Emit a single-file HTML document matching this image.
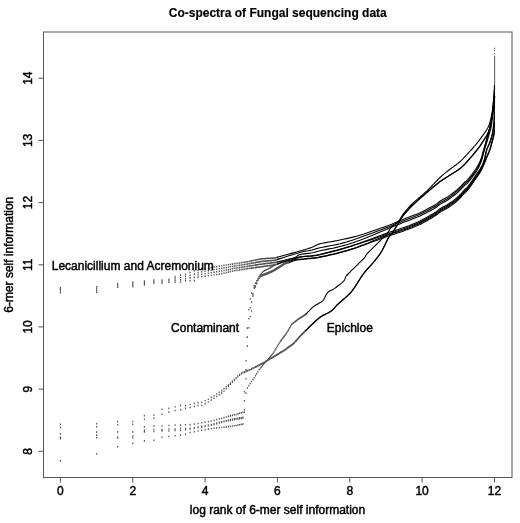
<!DOCTYPE html>
<html><head><meta charset="utf-8"><style>
html,body{margin:0;padding:0;background:#fff;width:520px;height:523px;overflow:hidden}
svg{display:block;filter:grayscale(1)}
.t{font-family:"Liberation Sans",sans-serif;font-size:12px;fill:#000;stroke:#000;stroke-width:0.45px}
</style></head><body>
<svg width="520" height="523" viewBox="0 0 520 523">
<rect width="520" height="523" fill="#fff"/>
<rect x="43.5" y="32.0" width="468.5" height="445.5" fill="none" stroke="#555" stroke-width="1"/>
<line x1="60.4" y1="477.5" x2="60.4" y2="482.5" stroke="#555"/>
<text x="60.4" y="494.5" text-anchor="middle" class="t">0</text>
<line x1="132.8" y1="477.5" x2="132.8" y2="482.5" stroke="#555"/>
<text x="132.8" y="494.5" text-anchor="middle" class="t">2</text>
<line x1="205.1" y1="477.5" x2="205.1" y2="482.5" stroke="#555"/>
<text x="205.1" y="494.5" text-anchor="middle" class="t">4</text>
<line x1="277.4" y1="477.5" x2="277.4" y2="482.5" stroke="#555"/>
<text x="277.4" y="494.5" text-anchor="middle" class="t">6</text>
<line x1="349.8" y1="477.5" x2="349.8" y2="482.5" stroke="#555"/>
<text x="349.8" y="494.5" text-anchor="middle" class="t">8</text>
<line x1="422.1" y1="477.5" x2="422.1" y2="482.5" stroke="#555"/>
<text x="422.1" y="494.5" text-anchor="middle" class="t">10</text>
<line x1="494.5" y1="477.5" x2="494.5" y2="482.5" stroke="#555"/>
<text x="494.5" y="494.5" text-anchor="middle" class="t">12</text>
<line x1="38.5" y1="451.3" x2="43.5" y2="451.3" stroke="#555"/>
<text transform="translate(31.6,451.3) rotate(-90)" text-anchor="middle" class="t">8</text>
<line x1="38.5" y1="389.1" x2="43.5" y2="389.1" stroke="#555"/>
<text transform="translate(31.6,389.1) rotate(-90)" text-anchor="middle" class="t">9</text>
<line x1="38.5" y1="326.9" x2="43.5" y2="326.9" stroke="#555"/>
<text transform="translate(31.6,326.9) rotate(-90)" text-anchor="middle" class="t">10</text>
<line x1="38.5" y1="264.8" x2="43.5" y2="264.8" stroke="#555"/>
<text transform="translate(31.6,264.8) rotate(-90)" text-anchor="middle" class="t">11</text>
<line x1="38.5" y1="202.6" x2="43.5" y2="202.6" stroke="#555"/>
<text transform="translate(31.6,202.6) rotate(-90)" text-anchor="middle" class="t">12</text>
<line x1="38.5" y1="140.4" x2="43.5" y2="140.4" stroke="#555"/>
<text transform="translate(31.6,140.4) rotate(-90)" text-anchor="middle" class="t">13</text>
<line x1="38.5" y1="78.2" x2="43.5" y2="78.2" stroke="#555"/>
<text transform="translate(31.6,78.2) rotate(-90)" text-anchor="middle" class="t">14</text>
<text x="277.75" y="16.6" text-anchor="middle" class="t" font-weight="bold" style="stroke-width:0.15px">Co-spectra of Fungal sequencing data</text>
<text x="277.5" y="513.8" text-anchor="middle" class="t">log rank of 6-mer self information</text>
<text transform="translate(13,254.75) rotate(-90)" text-anchor="middle" class="t">6-mer self information</text>
<path d="M59.8 286.9h1.2v1.6h-1.2zM96.0 285.9h1.2v1.6h-1.2zM117.1 282.8h1.2v1.6h-1.2zM132.2 281.3h1.2v1.6h-1.2zM143.8 280.2h1.2v1.6h-1.2zM153.3 279.2h1.2v1.6h-1.2zM161.4 279.2h1.2v1.6h-1.2zM168.3 278.6h1.2v1.6h-1.2zM174.5 275.7h1.2v1.6h-1.2zM180.0 274.3h1.2v1.6h-1.2zM184.9 273.4h1.2v1.6h-1.2zM189.5 271.7h1.2v1.6h-1.2zM193.7 270.0h1.2v1.6h-1.2zM197.5 269.4h1.2v1.6h-1.2zM201.1 268.7h1.2v1.6h-1.2zM204.5 268.1h1.2v1.6h-1.2zM207.7 267.5h1.2v1.6h-1.2zM210.6 266.9h1.2v1.6h-1.2zM213.5 266.3h1.2v1.6h-1.2zM216.1 265.8h1.2v1.6h-1.2zM218.7 265.3h1.2v1.6h-1.2zM221.1 264.9h1.2v1.6h-1.2zM223.4 264.6h1.2v1.6h-1.2zM225.7 264.2h1.2v1.6h-1.2zM227.8 263.9h1.2v1.6h-1.2zM229.8 263.6h1.2v1.6h-1.2zM231.8 263.3h1.2v1.6h-1.2zM233.7 263.0h1.2v1.6h-1.2zM235.5 262.7h1.2v1.6h-1.2zM237.3 262.4h1.2v1.6h-1.2zM239.0 262.2h1.2v1.6h-1.2zM240.7 261.9h1.2v1.6h-1.2zM242.3 261.6h1.2v1.6h-1.2zM243.8 261.4h1.2v1.6h-1.2zM245.4 261.1h1.2v1.6h-1.2zM246.8 260.9h1.2v1.6h-1.2zM248.3 260.7h1.2v1.6h-1.2zM249.6 260.4h1.2v1.6h-1.2zM251.0 260.1h1.2v1.6h-1.2zM252.3 259.8h1.2v1.6h-1.2zM253.6 259.5h1.2v1.6h-1.2zM254.9 259.2h1.2v1.6h-1.2zM256.1 259.0h1.2v1.6h-1.2zM257.3 258.7h1.2v1.6h-1.2zM258.5 258.4h1.2v1.6h-1.2zM259.6 258.2h1.2v1.6h-1.2zM260.7 258.1h1.2v1.6h-1.2zM261.8 258.0h1.2v1.6h-1.2zM262.9 257.9h1.2v1.6h-1.2zM264.0 257.9h1.2v1.6h-1.2zM265.0 257.8h1.2v1.6h-1.2zM266.0 257.7h1.2v1.6h-1.2zM267.0 257.6h1.2v1.6h-1.2zM268.0 257.6h1.2v1.6h-1.2zM268.9 257.5h1.2v1.6h-1.2zM269.9 257.4h1.2v1.6h-1.2zM270.8 257.4h1.2v1.6h-1.2zM271.7 257.3h1.2v1.6h-1.2zM272.6 257.2h1.2v1.6h-1.2zM273.5 257.2h1.2v1.6h-1.2zM274.3 257.1h1.2v1.6h-1.2zM275.2 256.9h1.2v1.6h-1.2zM276.0 256.7h1.2v1.6h-1.2zM276.8 256.4h1.2v1.6h-1.2zM59.8 288.6h1.2v1.6h-1.2zM96.0 287.8h1.2v1.6h-1.2zM117.1 284.0h1.2v1.6h-1.2zM132.2 282.8h1.2v1.6h-1.2zM143.8 281.5h1.2v1.6h-1.2zM153.3 280.4h1.2v1.6h-1.2zM161.4 280.4h1.2v1.6h-1.2zM168.3 279.6h1.2v1.6h-1.2zM174.5 277.6h1.2v1.6h-1.2zM180.0 276.7h1.2v1.6h-1.2zM184.9 275.5h1.2v1.6h-1.2zM189.5 274.4h1.2v1.6h-1.2zM193.7 273.3h1.2v1.6h-1.2zM197.5 271.7h1.2v1.6h-1.2zM201.1 271.1h1.2v1.6h-1.2zM204.5 270.5h1.2v1.6h-1.2zM207.7 269.9h1.2v1.6h-1.2zM210.6 269.4h1.2v1.6h-1.2zM213.5 268.9h1.2v1.6h-1.2zM216.1 268.4h1.2v1.6h-1.2zM218.7 268.0h1.2v1.6h-1.2zM221.1 267.6h1.2v1.6h-1.2zM223.4 267.1h1.2v1.6h-1.2zM225.7 266.8h1.2v1.6h-1.2zM227.8 266.4h1.2v1.6h-1.2zM229.8 266.0h1.2v1.6h-1.2zM231.8 265.7h1.2v1.6h-1.2zM233.7 265.3h1.2v1.6h-1.2zM235.5 265.0h1.2v1.6h-1.2zM237.3 264.7h1.2v1.6h-1.2zM239.0 264.5h1.2v1.6h-1.2zM240.7 264.2h1.2v1.6h-1.2zM242.3 264.0h1.2v1.6h-1.2zM243.8 263.7h1.2v1.6h-1.2zM245.4 263.5h1.2v1.6h-1.2zM246.8 263.2h1.2v1.6h-1.2zM248.3 263.0h1.2v1.6h-1.2zM249.6 262.8h1.2v1.6h-1.2zM251.0 262.5h1.2v1.6h-1.2zM252.3 262.3h1.2v1.6h-1.2zM253.6 262.0h1.2v1.6h-1.2zM254.9 261.8h1.2v1.6h-1.2zM256.1 261.5h1.2v1.6h-1.2zM257.3 261.3h1.2v1.6h-1.2zM258.5 261.1h1.2v1.6h-1.2zM259.6 260.8h1.2v1.6h-1.2zM260.7 260.7h1.2v1.6h-1.2zM261.8 260.6h1.2v1.6h-1.2zM262.9 260.5h1.2v1.6h-1.2zM264.0 260.4h1.2v1.6h-1.2zM265.0 260.3h1.2v1.6h-1.2zM266.0 260.2h1.2v1.6h-1.2zM267.0 260.1h1.2v1.6h-1.2zM268.0 260.0h1.2v1.6h-1.2zM268.9 259.9h1.2v1.6h-1.2zM269.9 259.8h1.2v1.6h-1.2zM270.8 259.8h1.2v1.6h-1.2zM271.7 259.7h1.2v1.6h-1.2zM272.6 259.6h1.2v1.6h-1.2zM273.5 259.5h1.2v1.6h-1.2zM274.3 259.4h1.2v1.6h-1.2zM275.2 259.2h1.2v1.6h-1.2zM276.0 258.9h1.2v1.6h-1.2zM276.8 258.6h1.2v1.6h-1.2zM59.8 290.2h1.2v1.6h-1.2zM96.0 289.8h1.2v1.6h-1.2zM117.1 285.3h1.2v1.6h-1.2zM132.2 284.4h1.2v1.6h-1.2zM143.8 282.9h1.2v1.6h-1.2zM153.3 281.5h1.2v1.6h-1.2zM161.4 281.5h1.2v1.6h-1.2zM168.3 280.5h1.2v1.6h-1.2zM174.5 279.6h1.2v1.6h-1.2zM180.0 279.1h1.2v1.6h-1.2zM184.9 277.7h1.2v1.6h-1.2zM189.5 277.1h1.2v1.6h-1.2zM193.7 276.5h1.2v1.6h-1.2zM197.5 274.0h1.2v1.6h-1.2zM201.1 273.4h1.2v1.6h-1.2zM204.5 272.9h1.2v1.6h-1.2zM207.7 272.4h1.2v1.6h-1.2zM210.6 271.9h1.2v1.6h-1.2zM213.5 271.5h1.2v1.6h-1.2zM216.1 271.0h1.2v1.6h-1.2zM218.7 270.6h1.2v1.6h-1.2zM221.1 270.2h1.2v1.6h-1.2zM223.4 269.7h1.2v1.6h-1.2zM225.7 269.3h1.2v1.6h-1.2zM227.8 268.8h1.2v1.6h-1.2zM229.8 268.4h1.2v1.6h-1.2zM231.8 268.0h1.2v1.6h-1.2zM233.7 267.6h1.2v1.6h-1.2zM235.5 267.3h1.2v1.6h-1.2zM237.3 267.0h1.2v1.6h-1.2zM239.0 266.8h1.2v1.6h-1.2zM240.7 266.5h1.2v1.6h-1.2zM242.3 266.3h1.2v1.6h-1.2zM243.8 266.0h1.2v1.6h-1.2zM245.4 265.8h1.2v1.6h-1.2zM246.8 265.6h1.2v1.6h-1.2zM248.3 265.3h1.2v1.6h-1.2zM249.6 265.1h1.2v1.6h-1.2zM251.0 264.9h1.2v1.6h-1.2zM252.3 264.7h1.2v1.6h-1.2zM253.6 264.5h1.2v1.6h-1.2zM254.9 264.3h1.2v1.6h-1.2zM256.1 264.1h1.2v1.6h-1.2zM257.3 263.9h1.2v1.6h-1.2zM258.5 263.7h1.2v1.6h-1.2zM259.6 263.5h1.2v1.6h-1.2zM260.7 263.4h1.2v1.6h-1.2zM261.8 263.2h1.2v1.6h-1.2zM262.9 263.1h1.2v1.6h-1.2zM264.0 263.0h1.2v1.6h-1.2zM265.0 262.8h1.2v1.6h-1.2zM266.0 262.7h1.2v1.6h-1.2zM267.0 262.6h1.2v1.6h-1.2zM268.0 262.5h1.2v1.6h-1.2zM268.9 262.4h1.2v1.6h-1.2zM269.9 262.3h1.2v1.6h-1.2zM270.8 262.1h1.2v1.6h-1.2zM271.7 262.0h1.2v1.6h-1.2zM272.6 261.9h1.2v1.6h-1.2zM273.5 261.8h1.2v1.6h-1.2zM274.3 261.7h1.2v1.6h-1.2zM275.2 261.5h1.2v1.6h-1.2zM276.0 261.3h1.2v1.6h-1.2zM276.8 261.2h1.2v1.6h-1.2zM59.8 291.9h1.2v1.6h-1.2zM96.0 291.7h1.2v1.6h-1.2zM117.1 286.5h1.2v1.6h-1.2zM132.2 285.9h1.2v1.6h-1.2zM143.8 284.2h1.2v1.6h-1.2zM153.3 282.7h1.2v1.6h-1.2zM161.4 282.7h1.2v1.6h-1.2zM168.3 281.5h1.2v1.6h-1.2zM174.5 281.5h1.2v1.6h-1.2zM180.0 281.5h1.2v1.6h-1.2zM184.9 279.8h1.2v1.6h-1.2zM189.5 279.8h1.2v1.6h-1.2zM193.7 279.8h1.2v1.6h-1.2zM197.5 276.3h1.2v1.6h-1.2zM201.1 275.8h1.2v1.6h-1.2zM204.5 275.3h1.2v1.6h-1.2zM207.7 274.9h1.2v1.6h-1.2zM210.6 274.4h1.2v1.6h-1.2zM213.5 274.0h1.2v1.6h-1.2zM216.1 273.7h1.2v1.6h-1.2zM218.7 273.3h1.2v1.6h-1.2zM221.1 272.8h1.2v1.6h-1.2zM223.4 272.3h1.2v1.6h-1.2zM225.7 271.8h1.2v1.6h-1.2zM227.8 271.3h1.2v1.6h-1.2zM229.8 270.8h1.2v1.6h-1.2zM231.8 270.4h1.2v1.6h-1.2zM233.7 270.0h1.2v1.6h-1.2zM235.5 269.6h1.2v1.6h-1.2zM237.3 269.4h1.2v1.6h-1.2zM239.0 269.1h1.2v1.6h-1.2zM240.7 268.8h1.2v1.6h-1.2zM242.3 268.6h1.2v1.6h-1.2zM243.8 268.4h1.2v1.6h-1.2zM245.4 268.1h1.2v1.6h-1.2zM246.8 267.9h1.2v1.6h-1.2zM248.3 267.7h1.2v1.6h-1.2zM249.6 267.5h1.2v1.6h-1.2zM251.0 267.3h1.2v1.6h-1.2zM252.3 267.1h1.2v1.6h-1.2zM253.6 267.0h1.2v1.6h-1.2zM254.9 266.8h1.2v1.6h-1.2zM256.1 266.6h1.2v1.6h-1.2zM257.3 266.5h1.2v1.6h-1.2zM258.5 266.3h1.2v1.6h-1.2zM259.6 266.2h1.2v1.6h-1.2zM260.7 266.0h1.2v1.6h-1.2zM261.8 265.8h1.2v1.6h-1.2zM262.9 265.7h1.2v1.6h-1.2zM264.0 265.5h1.2v1.6h-1.2zM265.0 265.4h1.2v1.6h-1.2zM266.0 265.2h1.2v1.6h-1.2zM267.0 265.1h1.2v1.6h-1.2zM268.0 264.9h1.2v1.6h-1.2zM268.9 264.8h1.2v1.6h-1.2zM269.9 264.7h1.2v1.6h-1.2zM270.8 264.5h1.2v1.6h-1.2zM271.7 264.4h1.2v1.6h-1.2zM272.6 264.3h1.2v1.6h-1.2zM273.5 264.1h1.2v1.6h-1.2zM274.3 264.0h1.2v1.6h-1.2zM275.2 263.8h1.2v1.6h-1.2zM276.0 263.5h1.2v1.6h-1.2zM276.8 263.3h1.2v1.6h-1.2zM59.8 433.0h1.2v1.6h-1.2zM96.0 431.3h1.2v1.6h-1.2zM117.1 431.1h1.2v1.6h-1.2zM132.2 431.1h1.2v1.6h-1.2zM143.8 425.9h1.2v1.6h-1.2zM153.3 425.2h1.2v1.6h-1.2zM161.4 425.2h1.2v1.6h-1.2zM168.3 424.7h1.2v1.6h-1.2zM174.5 424.2h1.2v1.6h-1.2zM180.0 424.2h1.2v1.6h-1.2zM184.9 424.0h1.2v1.6h-1.2zM189.5 423.8h1.2v1.6h-1.2zM193.7 423.2h1.2v1.6h-1.2zM197.5 422.7h1.2v1.6h-1.2zM201.1 422.0h1.2v1.6h-1.2zM204.5 421.4h1.2v1.6h-1.2zM207.7 420.8h1.2v1.6h-1.2zM210.6 420.2h1.2v1.6h-1.2zM213.5 419.4h1.2v1.6h-1.2zM216.1 418.7h1.2v1.6h-1.2zM218.7 418.0h1.2v1.6h-1.2zM221.1 417.4h1.2v1.6h-1.2zM223.4 416.8h1.2v1.6h-1.2zM225.7 416.2h1.2v1.6h-1.2zM227.8 415.6h1.2v1.6h-1.2zM229.8 415.1h1.2v1.6h-1.2zM231.8 414.6h1.2v1.6h-1.2zM233.7 414.1h1.2v1.6h-1.2zM235.5 413.7h1.2v1.6h-1.2zM237.3 413.1h1.2v1.6h-1.2zM239.0 412.5h1.2v1.6h-1.2zM240.7 412.0h1.2v1.6h-1.2zM242.3 411.5h1.2v1.6h-1.2zM243.8 391.0h1.2v1.6h-1.2zM245.4 360.0h1.2v1.6h-1.2zM246.8 327.3h1.2v1.6h-1.2zM248.3 309.0h1.2v1.6h-1.2zM249.6 298.0h1.2v1.6h-1.2zM251.0 292.2h1.2v1.6h-1.2zM252.3 292.7h1.2v1.6h-1.2zM253.6 284.8h1.2v1.6h-1.2zM254.9 282.3h1.2v1.6h-1.2zM256.1 280.0h1.2v1.6h-1.2zM257.3 277.7h1.2v1.6h-1.2zM258.5 275.7h1.2v1.6h-1.2zM259.6 274.2h1.2v1.6h-1.2zM260.7 272.8h1.2v1.6h-1.2zM261.8 271.5h1.2v1.6h-1.2zM262.9 270.5h1.2v1.6h-1.2zM264.0 270.0h1.2v1.6h-1.2zM265.0 269.5h1.2v1.6h-1.2zM266.0 269.0h1.2v1.6h-1.2zM267.0 268.5h1.2v1.6h-1.2zM268.0 268.0h1.2v1.6h-1.2zM268.9 267.4h1.2v1.6h-1.2zM269.9 266.8h1.2v1.6h-1.2zM270.8 266.3h1.2v1.6h-1.2zM271.7 265.7h1.2v1.6h-1.2zM272.6 265.2h1.2v1.6h-1.2zM273.5 264.7h1.2v1.6h-1.2zM274.3 264.3h1.2v1.6h-1.2zM275.2 263.9h1.2v1.6h-1.2zM276.0 263.4h1.2v1.6h-1.2zM276.8 263.0h1.2v1.6h-1.2zM277.7 262.7h1.2v1.6h-1.2zM278.5 262.3h1.2v1.6h-1.2zM279.2 262.0h1.2v1.6h-1.2zM280.0 261.6h1.2v1.6h-1.2zM280.8 261.3h1.2v1.6h-1.2zM281.5 261.0h1.2v1.6h-1.2zM282.3 260.6h1.2v1.6h-1.2zM283.0 260.3h1.2v1.6h-1.2zM283.7 260.0h1.2v1.6h-1.2zM284.4 259.7h1.2v1.6h-1.2zM285.1 259.5h1.2v1.6h-1.2zM285.8 259.3h1.2v1.6h-1.2zM286.5 259.1h1.2v1.6h-1.2zM287.2 258.9h1.2v1.6h-1.2zM287.8 258.7h1.2v1.6h-1.2zM288.5 258.5h1.2v1.6h-1.2zM59.8 436.5h1.2v1.6h-1.2zM96.0 434.3h1.2v1.6h-1.2zM117.1 436.2h1.2v1.6h-1.2zM132.2 435.2h1.2v1.6h-1.2zM143.8 429.6h1.2v1.6h-1.2zM153.3 428.7h1.2v1.6h-1.2zM161.4 428.7h1.2v1.6h-1.2zM168.3 428.2h1.2v1.6h-1.2zM174.5 428.2h1.2v1.6h-1.2zM180.0 427.7h1.2v1.6h-1.2zM184.9 427.7h1.2v1.6h-1.2zM189.5 427.5h1.2v1.6h-1.2zM193.7 427.0h1.2v1.6h-1.2zM197.5 426.2h1.2v1.6h-1.2zM201.1 425.5h1.2v1.6h-1.2zM204.5 424.9h1.2v1.6h-1.2zM207.7 424.3h1.2v1.6h-1.2zM210.6 423.7h1.2v1.6h-1.2zM213.5 422.9h1.2v1.6h-1.2zM216.1 422.2h1.2v1.6h-1.2zM218.7 421.5h1.2v1.6h-1.2zM221.1 420.9h1.2v1.6h-1.2zM223.4 420.3h1.2v1.6h-1.2zM225.7 419.7h1.2v1.6h-1.2zM227.8 419.3h1.2v1.6h-1.2zM229.8 418.9h1.2v1.6h-1.2zM231.8 418.5h1.2v1.6h-1.2zM233.7 418.1h1.2v1.6h-1.2zM235.5 417.7h1.2v1.6h-1.2zM237.3 417.4h1.2v1.6h-1.2zM239.0 417.1h1.2v1.6h-1.2zM240.7 416.9h1.2v1.6h-1.2zM242.3 416.6h1.2v1.6h-1.2zM243.8 400.0h1.2v1.6h-1.2zM245.4 369.0h1.2v1.6h-1.2zM246.8 336.3h1.2v1.6h-1.2zM248.3 318.0h1.2v1.6h-1.2zM249.6 307.0h1.2v1.6h-1.2zM251.0 301.2h1.2v1.6h-1.2zM252.3 294.1h1.2v1.6h-1.2zM253.6 286.2h1.2v1.6h-1.2zM254.9 285.2h1.2v1.6h-1.2zM256.1 282.0h1.2v1.6h-1.2zM257.3 278.7h1.2v1.6h-1.2zM258.5 276.6h1.2v1.6h-1.2zM259.6 274.9h1.2v1.6h-1.2zM260.7 274.4h1.2v1.6h-1.2zM261.8 274.0h1.2v1.6h-1.2zM262.9 273.5h1.2v1.6h-1.2zM264.0 273.1h1.2v1.6h-1.2zM265.0 272.7h1.2v1.6h-1.2zM266.0 272.3h1.2v1.6h-1.2zM267.0 271.9h1.2v1.6h-1.2zM268.0 271.5h1.2v1.6h-1.2zM268.9 271.1h1.2v1.6h-1.2zM269.9 270.7h1.2v1.6h-1.2zM270.8 270.3h1.2v1.6h-1.2zM271.7 270.0h1.2v1.6h-1.2zM272.6 269.5h1.2v1.6h-1.2zM273.5 269.0h1.2v1.6h-1.2zM274.3 268.5h1.2v1.6h-1.2zM275.2 268.0h1.2v1.6h-1.2zM276.0 267.5h1.2v1.6h-1.2zM276.8 267.0h1.2v1.6h-1.2zM277.7 266.5h1.2v1.6h-1.2zM278.5 266.0h1.2v1.6h-1.2zM279.2 265.5h1.2v1.6h-1.2zM280.0 265.0h1.2v1.6h-1.2zM280.8 264.5h1.2v1.6h-1.2zM281.5 264.1h1.2v1.6h-1.2zM282.3 263.6h1.2v1.6h-1.2zM283.0 263.1h1.2v1.6h-1.2zM283.7 262.6h1.2v1.6h-1.2zM284.4 262.2h1.2v1.6h-1.2zM285.1 261.9h1.2v1.6h-1.2zM285.8 261.7h1.2v1.6h-1.2zM286.5 261.5h1.2v1.6h-1.2zM287.2 261.2h1.2v1.6h-1.2zM287.8 261.0h1.2v1.6h-1.2zM288.5 260.8h1.2v1.6h-1.2zM59.8 437.8h1.2v1.6h-1.2zM96.0 436.9h1.2v1.6h-1.2zM117.1 437.2h1.2v1.6h-1.2zM132.2 436.9h1.2v1.6h-1.2zM143.8 431.2h1.2v1.6h-1.2zM153.3 430.7h1.2v1.6h-1.2zM161.4 430.2h1.2v1.6h-1.2zM168.3 430.2h1.2v1.6h-1.2zM174.5 429.7h1.2v1.6h-1.2zM180.0 429.7h1.2v1.6h-1.2zM184.9 428.8h1.2v1.6h-1.2zM189.5 428.2h1.2v1.6h-1.2zM193.7 427.7h1.2v1.6h-1.2zM197.5 427.0h1.2v1.6h-1.2zM201.1 426.3h1.2v1.6h-1.2zM204.5 425.6h1.2v1.6h-1.2zM207.7 425.0h1.2v1.6h-1.2zM210.6 424.4h1.2v1.6h-1.2zM213.5 423.6h1.2v1.6h-1.2zM216.1 422.9h1.2v1.6h-1.2zM218.7 422.2h1.2v1.6h-1.2zM221.1 421.6h1.2v1.6h-1.2zM223.4 421.0h1.2v1.6h-1.2zM225.7 420.4h1.2v1.6h-1.2zM227.8 420.0h1.2v1.6h-1.2zM229.8 419.6h1.2v1.6h-1.2zM231.8 419.2h1.2v1.6h-1.2zM233.7 418.8h1.2v1.6h-1.2zM235.5 418.4h1.2v1.6h-1.2zM237.3 418.1h1.2v1.6h-1.2zM239.0 417.8h1.2v1.6h-1.2zM240.7 417.6h1.2v1.6h-1.2zM242.3 417.3h1.2v1.6h-1.2zM243.8 409.0h1.2v1.6h-1.2zM245.4 378.0h1.2v1.6h-1.2zM246.8 345.3h1.2v1.6h-1.2zM248.3 327.0h1.2v1.6h-1.2zM249.6 316.0h1.2v1.6h-1.2zM251.0 310.2h1.2v1.6h-1.2zM252.3 295.4h1.2v1.6h-1.2zM253.6 287.5h1.2v1.6h-1.2zM254.9 286.2h1.2v1.6h-1.2zM256.1 283.0h1.2v1.6h-1.2zM257.3 279.7h1.2v1.6h-1.2zM258.5 277.6h1.2v1.6h-1.2zM259.6 275.9h1.2v1.6h-1.2zM260.7 275.4h1.2v1.6h-1.2zM261.8 275.0h1.2v1.6h-1.2zM262.9 274.5h1.2v1.6h-1.2zM264.0 274.1h1.2v1.6h-1.2zM265.0 273.7h1.2v1.6h-1.2zM266.0 273.3h1.2v1.6h-1.2zM267.0 272.9h1.2v1.6h-1.2zM268.0 272.5h1.2v1.6h-1.2zM268.9 272.1h1.2v1.6h-1.2zM269.9 271.7h1.2v1.6h-1.2zM270.8 271.3h1.2v1.6h-1.2zM271.7 271.0h1.2v1.6h-1.2zM272.6 270.5h1.2v1.6h-1.2zM273.5 269.9h1.2v1.6h-1.2zM274.3 269.4h1.2v1.6h-1.2zM275.2 268.9h1.2v1.6h-1.2zM276.0 268.4h1.2v1.6h-1.2zM276.8 267.8h1.2v1.6h-1.2zM277.7 267.3h1.2v1.6h-1.2zM278.5 266.8h1.2v1.6h-1.2zM279.2 266.3h1.2v1.6h-1.2zM280.0 265.8h1.2v1.6h-1.2zM280.8 265.3h1.2v1.6h-1.2zM281.5 264.9h1.2v1.6h-1.2zM282.3 264.4h1.2v1.6h-1.2zM283.0 263.9h1.2v1.6h-1.2zM283.7 263.4h1.2v1.6h-1.2zM284.4 263.0h1.2v1.6h-1.2zM285.1 262.8h1.2v1.6h-1.2zM285.8 262.5h1.2v1.6h-1.2zM286.5 262.3h1.2v1.6h-1.2zM287.2 262.1h1.2v1.6h-1.2zM287.8 261.9h1.2v1.6h-1.2zM288.5 261.6h1.2v1.6h-1.2zM59.8 460.1h1.2v1.6h-1.2zM96.0 453.0h1.2v1.6h-1.2zM117.1 445.9h1.2v1.6h-1.2zM132.2 442.6h1.2v1.6h-1.2zM143.8 440.1h1.2v1.6h-1.2zM153.3 439.5h1.2v1.6h-1.2zM161.4 436.4h1.2v1.6h-1.2zM168.3 435.7h1.2v1.6h-1.2zM174.5 434.9h1.2v1.6h-1.2zM180.0 434.5h1.2v1.6h-1.2zM184.9 433.4h1.2v1.6h-1.2zM189.5 431.7h1.2v1.6h-1.2zM193.7 431.0h1.2v1.6h-1.2zM197.5 430.2h1.2v1.6h-1.2zM201.1 429.5h1.2v1.6h-1.2zM204.5 428.9h1.2v1.6h-1.2zM207.7 428.3h1.2v1.6h-1.2zM210.6 427.9h1.2v1.6h-1.2zM213.5 427.5h1.2v1.6h-1.2zM216.1 427.2h1.2v1.6h-1.2zM218.7 426.9h1.2v1.6h-1.2zM221.1 426.7h1.2v1.6h-1.2zM223.4 426.4h1.2v1.6h-1.2zM225.7 426.1h1.2v1.6h-1.2zM227.8 425.8h1.2v1.6h-1.2zM229.8 425.5h1.2v1.6h-1.2zM231.8 425.2h1.2v1.6h-1.2zM233.7 424.9h1.2v1.6h-1.2zM235.5 424.7h1.2v1.6h-1.2zM237.3 424.3h1.2v1.6h-1.2zM239.0 424.0h1.2v1.6h-1.2zM240.7 423.6h1.2v1.6h-1.2zM242.3 423.3h1.2v1.6h-1.2zM243.8 411.4h1.2v1.6h-1.2zM245.4 392.3h1.2v1.6h-1.2zM246.8 387.2h1.2v1.6h-1.2zM248.3 384.8h1.2v1.6h-1.2zM249.6 382.6h1.2v1.6h-1.2zM251.0 380.7h1.2v1.6h-1.2zM252.3 378.8h1.2v1.6h-1.2zM253.6 376.9h1.2v1.6h-1.2zM254.9 374.8h1.2v1.6h-1.2zM256.1 372.8h1.2v1.6h-1.2zM257.3 370.9h1.2v1.6h-1.2zM258.5 369.0h1.2v1.6h-1.2zM259.6 367.6h1.2v1.6h-1.2zM260.7 366.3h1.2v1.6h-1.2zM261.8 365.0h1.2v1.6h-1.2zM262.9 363.7h1.2v1.6h-1.2zM264.0 362.4h1.2v1.6h-1.2zM265.0 361.2h1.2v1.6h-1.2zM266.0 360.0h1.2v1.6h-1.2zM267.0 358.9h1.2v1.6h-1.2zM268.0 357.8h1.2v1.6h-1.2zM268.9 356.7h1.2v1.6h-1.2zM269.9 355.6h1.2v1.6h-1.2zM270.8 354.5h1.2v1.6h-1.2zM271.7 353.5h1.2v1.6h-1.2zM272.6 352.4h1.2v1.6h-1.2zM273.5 351.0h1.2v1.6h-1.2zM274.3 349.5h1.2v1.6h-1.2zM275.2 348.1h1.2v1.6h-1.2zM276.0 346.7h1.2v1.6h-1.2zM276.8 345.4h1.2v1.6h-1.2zM277.7 344.0h1.2v1.6h-1.2zM278.5 342.7h1.2v1.6h-1.2zM279.2 341.4h1.2v1.6h-1.2zM280.0 340.3h1.2v1.6h-1.2zM280.8 339.3h1.2v1.6h-1.2zM281.5 338.3h1.2v1.6h-1.2zM282.3 337.3h1.2v1.6h-1.2zM283.0 336.3h1.2v1.6h-1.2zM283.7 335.3h1.2v1.6h-1.2zM284.4 334.4h1.2v1.6h-1.2zM285.1 333.5h1.2v1.6h-1.2zM285.8 332.5h1.2v1.6h-1.2zM286.5 331.5h1.2v1.6h-1.2zM287.2 330.4h1.2v1.6h-1.2zM287.8 329.2h1.2v1.6h-1.2zM288.5 328.0h1.2v1.6h-1.2zM289.1 326.9h1.2v1.6h-1.2zM289.8 325.8h1.2v1.6h-1.2zM290.4 324.7h1.2v1.6h-1.2zM291.0 323.7h1.2v1.6h-1.2zM291.7 323.2h1.2v1.6h-1.2zM292.3 322.7h1.2v1.6h-1.2zM292.9 322.2h1.2v1.6h-1.2zM293.5 321.7h1.2v1.6h-1.2zM294.1 321.2h1.2v1.6h-1.2zM294.6 320.8h1.2v1.6h-1.2zM295.2 320.3h1.2v1.6h-1.2zM295.8 319.8h1.2v1.6h-1.2zM296.4 319.4h1.2v1.6h-1.2zM296.9 318.9h1.2v1.6h-1.2zM297.5 318.5h1.2v1.6h-1.2zM298.0 318.1h1.2v1.6h-1.2zM298.6 317.7h1.2v1.6h-1.2zM299.1 317.4h1.2v1.6h-1.2zM299.6 317.1h1.2v1.6h-1.2zM300.1 316.7h1.2v1.6h-1.2zM300.7 316.4h1.2v1.6h-1.2zM301.2 316.1h1.2v1.6h-1.2zM301.7 315.8h1.2v1.6h-1.2zM302.2 315.4h1.2v1.6h-1.2zM302.7 315.1h1.2v1.6h-1.2zM303.2 314.8h1.2v1.6h-1.2zM303.7 314.5h1.2v1.6h-1.2zM304.2 314.2h1.2v1.6h-1.2zM304.6 313.9h1.2v1.6h-1.2zM305.1 313.6h1.2v1.6h-1.2zM59.8 423.5h1.2v1.6h-1.2zM96.0 423.0h1.2v1.6h-1.2zM117.1 420.7h1.2v1.6h-1.2zM132.2 420.7h1.2v1.6h-1.2zM143.8 415.0h1.2v1.6h-1.2zM153.3 414.2h1.2v1.6h-1.2zM161.4 408.4h1.2v1.6h-1.2zM168.3 407.6h1.2v1.6h-1.2zM174.5 405.9h1.2v1.6h-1.2zM180.0 404.7h1.2v1.6h-1.2zM184.9 404.7h1.2v1.6h-1.2zM189.5 403.7h1.2v1.6h-1.2zM193.7 402.7h1.2v1.6h-1.2zM197.5 401.8h1.2v1.6h-1.2zM201.1 401.5h1.2v1.6h-1.2zM204.5 400.0h1.2v1.6h-1.2zM207.7 398.4h1.2v1.6h-1.2zM210.6 396.6h1.2v1.6h-1.2zM213.5 394.9h1.2v1.6h-1.2zM216.1 393.2h1.2v1.6h-1.2zM218.7 391.6h1.2v1.6h-1.2zM221.1 389.8h1.2v1.6h-1.2zM223.4 388.0h1.2v1.6h-1.2zM225.7 386.0h1.2v1.6h-1.2zM227.8 384.1h1.2v1.6h-1.2zM229.8 382.3h1.2v1.6h-1.2zM231.8 380.5h1.2v1.6h-1.2zM233.7 378.8h1.2v1.6h-1.2zM235.5 377.0h1.2v1.6h-1.2zM237.3 375.2h1.2v1.6h-1.2zM239.0 373.7h1.2v1.6h-1.2zM240.7 372.5h1.2v1.6h-1.2zM242.3 371.5h1.2v1.6h-1.2zM243.8 370.9h1.2v1.6h-1.2zM245.4 370.3h1.2v1.6h-1.2zM246.8 369.8h1.2v1.6h-1.2zM248.3 369.2h1.2v1.6h-1.2zM249.6 368.7h1.2v1.6h-1.2zM251.0 368.0h1.2v1.6h-1.2zM252.3 367.3h1.2v1.6h-1.2zM253.6 366.7h1.2v1.6h-1.2zM254.9 366.0h1.2v1.6h-1.2zM256.1 365.4h1.2v1.6h-1.2zM257.3 364.8h1.2v1.6h-1.2zM258.5 364.2h1.2v1.6h-1.2zM259.6 363.6h1.2v1.6h-1.2zM260.7 363.1h1.2v1.6h-1.2zM261.8 362.4h1.2v1.6h-1.2zM262.9 361.8h1.2v1.6h-1.2zM264.0 361.2h1.2v1.6h-1.2zM265.0 360.6h1.2v1.6h-1.2zM266.0 360.0h1.2v1.6h-1.2zM267.0 359.4h1.2v1.6h-1.2zM268.0 358.8h1.2v1.6h-1.2zM268.9 358.2h1.2v1.6h-1.2zM269.9 357.7h1.2v1.6h-1.2zM270.8 357.1h1.2v1.6h-1.2zM271.7 356.6h1.2v1.6h-1.2zM272.6 356.0h1.2v1.6h-1.2zM273.5 355.5h1.2v1.6h-1.2zM274.3 355.0h1.2v1.6h-1.2zM275.2 354.5h1.2v1.6h-1.2zM276.0 354.0h1.2v1.6h-1.2zM276.8 353.5h1.2v1.6h-1.2zM277.7 353.0h1.2v1.6h-1.2zM278.5 352.5h1.2v1.6h-1.2zM279.2 352.1h1.2v1.6h-1.2zM280.0 351.6h1.2v1.6h-1.2zM280.8 351.1h1.2v1.6h-1.2zM281.5 350.7h1.2v1.6h-1.2zM282.3 350.2h1.2v1.6h-1.2zM283.0 349.8h1.2v1.6h-1.2zM283.7 349.4h1.2v1.6h-1.2zM284.4 348.9h1.2v1.6h-1.2zM285.1 348.4h1.2v1.6h-1.2zM285.8 347.8h1.2v1.6h-1.2zM286.5 347.3h1.2v1.6h-1.2zM287.2 346.8h1.2v1.6h-1.2zM287.8 346.3h1.2v1.6h-1.2zM288.5 345.8h1.2v1.6h-1.2zM289.1 345.3h1.2v1.6h-1.2zM289.8 344.9h1.2v1.6h-1.2zM290.4 344.4h1.2v1.6h-1.2zM291.0 343.9h1.2v1.6h-1.2zM291.7 343.5h1.2v1.6h-1.2zM292.3 343.0h1.2v1.6h-1.2zM292.9 342.5h1.2v1.6h-1.2zM293.5 342.0h1.2v1.6h-1.2zM294.1 341.3h1.2v1.6h-1.2zM294.6 340.7h1.2v1.6h-1.2zM295.2 340.1h1.2v1.6h-1.2zM295.8 339.4h1.2v1.6h-1.2zM296.4 338.8h1.2v1.6h-1.2zM296.9 338.2h1.2v1.6h-1.2zM297.5 337.6h1.2v1.6h-1.2zM298.0 336.9h1.2v1.6h-1.2zM298.6 336.3h1.2v1.6h-1.2zM299.1 335.7h1.2v1.6h-1.2zM299.6 335.2h1.2v1.6h-1.2zM300.1 334.7h1.2v1.6h-1.2zM300.7 334.1h1.2v1.6h-1.2zM301.2 333.6h1.2v1.6h-1.2zM301.7 333.1h1.2v1.6h-1.2zM302.2 332.6h1.2v1.6h-1.2zM302.7 332.1h1.2v1.6h-1.2zM303.2 331.6h1.2v1.6h-1.2zM303.7 331.1h1.2v1.6h-1.2zM304.2 330.6h1.2v1.6h-1.2zM304.6 330.2h1.2v1.6h-1.2zM305.1 329.7h1.2v1.6h-1.2zM59.8 426.6h1.2v1.6h-1.2zM96.0 425.9h1.2v1.6h-1.2zM117.1 424.0h1.2v1.6h-1.2zM132.2 423.6h1.2v1.6h-1.2zM143.8 418.4h1.2v1.6h-1.2zM153.3 417.5h1.2v1.6h-1.2zM161.4 413.4h1.2v1.6h-1.2zM168.3 411.3h1.2v1.6h-1.2zM174.5 409.7h1.2v1.6h-1.2zM180.0 408.8h1.2v1.6h-1.2zM184.9 407.6h1.2v1.6h-1.2zM189.5 406.7h1.2v1.6h-1.2zM193.7 405.7h1.2v1.6h-1.2zM197.5 404.7h1.2v1.6h-1.2zM201.1 404.4h1.2v1.6h-1.2zM204.5 402.8h1.2v1.6h-1.2zM207.7 401.2h1.2v1.6h-1.2zM210.6 399.3h1.2v1.6h-1.2zM213.5 397.4h1.2v1.6h-1.2zM216.1 395.7h1.2v1.6h-1.2zM218.7 394.1h1.2v1.6h-1.2zM221.1 392.3h1.2v1.6h-1.2zM223.4 390.5h1.2v1.6h-1.2zM225.7 388.0h1.2v1.6h-1.2zM227.8 385.7h1.2v1.6h-1.2zM229.8 383.5h1.2v1.6h-1.2zM231.8 381.5h1.2v1.6h-1.2zM233.7 379.6h1.2v1.6h-1.2zM235.5 377.7h1.2v1.6h-1.2zM237.3 375.8h1.2v1.6h-1.2zM239.0 374.3h1.2v1.6h-1.2zM240.7 373.0h1.2v1.6h-1.2zM242.3 372.0h1.2v1.6h-1.2zM243.8 371.4h1.2v1.6h-1.2zM245.4 370.8h1.2v1.6h-1.2zM246.8 370.2h1.2v1.6h-1.2zM248.3 369.6h1.2v1.6h-1.2zM249.6 369.0h1.2v1.6h-1.2zM251.0 368.3h1.2v1.6h-1.2zM252.3 367.7h1.2v1.6h-1.2zM253.6 367.0h1.2v1.6h-1.2zM254.9 366.4h1.2v1.6h-1.2zM256.1 365.8h1.2v1.6h-1.2zM257.3 365.2h1.2v1.6h-1.2zM258.5 364.6h1.2v1.6h-1.2zM259.6 364.0h1.2v1.6h-1.2zM260.7 363.4h1.2v1.6h-1.2zM261.8 362.8h1.2v1.6h-1.2zM262.9 362.2h1.2v1.6h-1.2zM264.0 361.5h1.2v1.6h-1.2zM265.0 360.9h1.2v1.6h-1.2zM266.0 360.3h1.2v1.6h-1.2zM267.0 359.7h1.2v1.6h-1.2zM268.0 359.1h1.2v1.6h-1.2zM268.9 358.6h1.2v1.6h-1.2zM269.9 358.0h1.2v1.6h-1.2zM270.8 357.5h1.2v1.6h-1.2zM271.7 356.9h1.2v1.6h-1.2zM272.6 356.4h1.2v1.6h-1.2zM273.5 355.9h1.2v1.6h-1.2zM274.3 355.3h1.2v1.6h-1.2zM275.2 354.8h1.2v1.6h-1.2zM276.0 354.3h1.2v1.6h-1.2zM276.8 353.8h1.2v1.6h-1.2zM277.7 353.4h1.2v1.6h-1.2zM278.5 352.9h1.2v1.6h-1.2zM279.2 352.4h1.2v1.6h-1.2zM280.0 351.9h1.2v1.6h-1.2zM280.8 351.5h1.2v1.6h-1.2zM281.5 351.0h1.2v1.6h-1.2zM282.3 350.6h1.2v1.6h-1.2zM283.0 350.2h1.2v1.6h-1.2zM283.7 349.7h1.2v1.6h-1.2zM284.4 349.2h1.2v1.6h-1.2zM285.1 348.7h1.2v1.6h-1.2zM285.8 348.2h1.2v1.6h-1.2zM286.5 347.7h1.2v1.6h-1.2zM287.2 347.2h1.2v1.6h-1.2zM287.8 346.7h1.2v1.6h-1.2zM288.5 346.2h1.2v1.6h-1.2zM289.1 345.7h1.2v1.6h-1.2zM289.8 345.2h1.2v1.6h-1.2zM290.4 344.7h1.2v1.6h-1.2zM291.0 344.3h1.2v1.6h-1.2zM291.7 343.8h1.2v1.6h-1.2zM292.3 343.3h1.2v1.6h-1.2zM292.9 342.9h1.2v1.6h-1.2zM293.5 342.3h1.2v1.6h-1.2zM294.1 341.7h1.2v1.6h-1.2zM294.6 341.0h1.2v1.6h-1.2zM295.2 340.4h1.2v1.6h-1.2zM295.8 339.8h1.2v1.6h-1.2zM296.4 339.1h1.2v1.6h-1.2zM296.9 338.5h1.2v1.6h-1.2zM297.5 337.9h1.2v1.6h-1.2zM298.0 337.3h1.2v1.6h-1.2zM298.6 336.7h1.2v1.6h-1.2zM299.1 336.1h1.2v1.6h-1.2zM299.6 335.5h1.2v1.6h-1.2zM300.1 335.0h1.2v1.6h-1.2zM300.7 334.5h1.2v1.6h-1.2zM301.2 334.0h1.2v1.6h-1.2zM301.7 333.5h1.2v1.6h-1.2zM302.2 333.0h1.2v1.6h-1.2zM302.7 332.5h1.2v1.6h-1.2zM303.2 332.0h1.2v1.6h-1.2zM303.7 331.5h1.2v1.6h-1.2zM304.2 331.0h1.2v1.6h-1.2zM304.6 330.5h1.2v1.6h-1.2zM305.1 330.0h1.2v1.6h-1.2z" fill="#555"/>
<path d="M494.6 85.5V56" stroke="#666" stroke-width="1.1" fill="none"/>
<path d="M494.1 47.8h1v1.1h-1zM494.1 49.8h1v1.1h-1zM494.1 52.7h1v1.1h-1z" fill="#555"/>
<path d="M277.4 257.2 280.0 256.5 283.7 255.5 288.0 254.3 292.4 253.1 296.6 252.0 300.0 251.0 302.7 250.2 304.9 249.6 306.9 249.0 308.7 248.4 310.4 247.9 312.0 247.3 313.4 246.7 314.5 246.1 315.5 245.6 316.6 245.0 318.0 244.4 320.0 243.8 322.6 243.2 325.8 242.6 329.2 242.0 332.9 241.4 336.5 240.7 340.0 240.0 343.3 239.3 346.5 238.6 349.7 237.9 353.0 237.1 356.4 236.2 360.0 235.2 364.0 234.0 368.2 232.6 372.6 231.1 377.0 229.6 381.2 228.1 385.0 226.7 388.4 225.4 391.6 224.2 394.5 222.9 397.3 221.7 400.1 220.6 403.0 219.4 405.9 218.3 408.8 217.2 411.7 216.1 414.5 215.0 417.3 213.9 420.0 212.7 422.7 211.4 425.5 210.0 428.2 208.6 430.8 207.2 433.1 206.0 435.0 204.9 436.4 204.1 437.3 203.4 437.9 202.9 438.5 202.3 439.1 201.8 440.0 201.2 441.1 200.5 442.4 199.8 443.7 199.1 445.1 198.3 446.6 197.5 448.0 196.6 449.5 195.6 451.1 194.4 452.7 193.2 454.3 192.0 455.8 190.8 457.2 189.6 458.5 188.4 459.8 187.1 461.1 185.9 462.2 184.7 463.3 183.6 464.2 182.7 464.9 182.0 465.5 181.5 466.0 181.2 466.4 180.8 466.9 180.4 467.4 179.9 468.0 179.3 468.5 178.7 469.1 178.0 469.7 177.2 470.4 176.4 471.1 175.4 472.0 174.3 472.9 173.0 473.9 171.7 474.9 170.3 475.9 168.9 476.8 167.5 477.6 166.1 478.4 164.8 479.1 163.4 479.7 161.9 480.4 160.5 481.0 158.9 481.6 157.2 482.1 155.5 482.6 153.6 483.1 151.8 483.5 150.1 484.0 148.4 484.5 146.9 484.9 145.4 485.3 144.0 485.7 142.6 486.1 141.3 486.5 140.0 486.9 138.8 487.2 137.6 487.5 136.5 487.9 135.4 488.2 134.2 488.5 133.0 488.8 131.8 489.2 130.6 489.5 129.4 489.8 128.1 490.2 126.6 490.5 125.0 490.8 123.1 491.1 121.0 491.4 118.8 491.7 116.5 492.0 114.2 492.3 112.0 492.6 109.8 492.8 107.5 493.0 105.2 493.2 103.0 493.4 100.9 493.6 99.0 493.8 97.2 493.9 95.6 494.0 94.0 494.1 92.6 494.2 91.2 494.3 90.0 494.4 88.9 494.4 87.9 494.4 86.9 494.5 86.1 494.5 85.5 494.5 85.0" fill="none" stroke="#000" stroke-width="1.1" stroke-linejoin="round"/>
<path d="M277.4 259.4 280.0 258.6 283.7 257.5 288.0 256.1 292.4 254.7 296.6 253.5 300.0 252.5 302.7 251.8 304.9 251.3 306.9 251.0 308.7 250.7 310.4 250.4 312.0 250.0 313.4 249.6 314.5 249.3 315.5 248.9 316.6 248.6 318.0 248.2 320.0 247.7 322.6 247.2 325.8 246.6 329.2 246.0 332.9 245.3 336.5 244.6 340.0 243.8 343.3 242.9 346.5 242.0 349.7 241.0 353.0 239.9 356.4 238.7 360.0 237.5 364.0 236.1 368.2 234.6 372.6 233.0 377.0 231.3 381.2 229.8 385.0 228.3 388.4 227.0 391.6 225.7 394.5 224.5 397.3 223.3 400.1 222.2 403.0 221.0 405.9 219.9 408.8 218.8 411.7 217.7 414.5 216.6 417.3 215.5 420.0 214.3 422.7 213.0 425.5 211.6 428.2 210.2 430.8 208.8 433.1 207.6 435.0 206.5 436.4 205.7 437.3 205.0 437.9 204.5 438.5 203.9 439.1 203.4 440.0 202.8 441.1 202.1 442.4 201.4 443.7 200.7 445.1 199.9 446.6 199.1 448.0 198.2 449.5 197.2 451.1 196.0 452.7 194.8 454.3 193.6 455.8 192.4 457.2 191.2 458.5 190.0 459.8 188.7 461.1 187.5 462.2 186.3 463.3 185.2 464.2 184.3 464.9 183.6 465.5 183.1 466.0 182.8 466.4 182.4 466.9 182.0 467.4 181.5 468.0 180.9 468.5 180.3 469.1 179.6 469.7 178.8 470.4 178.0 471.1 177.0 472.0 175.9 472.9 174.6 473.9 173.3 474.9 171.9 475.9 170.5 476.8 169.1 477.6 167.7 478.4 166.4 479.1 165.0 479.7 163.5 480.4 162.1 481.0 160.5 481.6 158.9 482.1 157.1 482.6 155.3 483.1 153.5 483.5 151.7 484.0 150.0 484.5 148.3 484.9 146.5 485.3 144.8 485.7 143.1 486.1 141.5 486.5 140.0 486.9 138.7 487.2 137.5 487.5 136.4 487.9 135.3 488.2 134.2 488.5 133.0 488.8 131.8 489.2 130.6 489.5 129.4 489.8 128.1 490.2 126.6 490.5 125.0 490.8 123.1 491.2 121.0 491.5 118.8 491.9 116.5 492.2 114.2 492.5 112.0 492.8 109.8 493.0 107.5 493.2 105.2 493.4 103.0 493.6 100.9 493.8 99.0 493.9 97.3 494.1 95.8 494.2 94.4 494.3 93.2 494.3 92.0 494.4 91.0 494.5 90.1 494.5 89.2 494.5 88.5 494.6 87.9 494.6 87.4 494.6 87.0" fill="none" stroke="#000" stroke-width="1.1" stroke-linejoin="round"/>
<path d="M277.4 262.0 280.0 261.4 283.7 260.5 288.0 259.5 292.4 258.5 296.6 257.6 300.0 256.9 302.7 256.5 304.9 256.2 306.9 256.1 308.7 256.0 310.4 255.9 312.0 255.7 313.4 255.5 314.5 255.4 315.5 255.2 316.6 255.0 318.0 254.7 320.0 254.3 322.6 253.7 325.8 252.9 329.2 252.1 332.9 251.1 336.5 250.2 340.0 249.2 343.3 248.3 346.5 247.3 349.7 246.4 353.0 245.3 356.4 244.2 360.0 243.0 364.0 241.6 368.2 240.0 372.6 238.4 377.0 236.7 381.2 235.2 385.0 233.8 388.4 232.6 391.6 231.6 394.5 230.7 397.3 229.7 400.1 228.8 403.0 227.8 405.9 226.7 408.8 225.7 411.7 224.6 414.5 223.4 417.3 222.2 420.0 221.0 422.7 219.6 425.5 218.1 428.2 216.6 430.8 215.0 433.1 213.7 435.0 212.5 436.4 211.6 437.3 210.9 437.9 210.4 438.5 209.9 439.1 209.4 440.0 208.8 441.1 208.1 442.4 207.4 443.7 206.7 445.1 206.0 446.6 205.2 448.0 204.3 449.5 203.3 451.1 202.2 452.7 201.1 454.3 199.9 455.8 198.7 457.2 197.5 458.5 196.3 459.8 194.9 461.1 193.6 462.2 192.3 463.3 191.1 464.2 190.1 464.9 189.4 465.5 188.8 466.0 188.4 466.4 188.0 466.9 187.6 467.4 187.0 468.0 186.3 468.5 185.6 469.1 184.9 469.7 184.1 470.4 183.1 471.1 182.1 472.0 180.9 472.9 179.5 473.9 178.0 474.9 176.6 475.9 175.1 476.8 173.8 477.6 172.6 478.4 171.5 479.1 170.5 479.7 169.5 480.4 168.5 481.0 167.4 481.6 166.4 482.1 165.4 482.6 164.4 483.1 163.3 483.5 162.1 484.0 160.8 484.4 159.2 484.9 157.4 485.2 155.4 485.6 153.5 486.1 151.6 486.5 150.0 487.0 148.6 487.5 147.4 488.0 146.3 488.5 145.3 489.0 144.2 489.5 143.0 490.0 141.8 490.4 140.6 490.8 139.3 491.2 138.0 491.6 136.6 492.0 135.0 492.4 133.2 492.7 131.3 493.0 129.3 493.3 127.2 493.6 125.1 493.8 123.0 494.0 120.9 494.1 118.6 494.2 116.4 494.3 114.1 494.3 112.0 494.4 110.0 494.4 108.0 494.5 106.1 494.5 104.2 494.5 102.5 494.5 101.1 494.5 100.0" fill="none" stroke="#000" stroke-width="1.1" stroke-linejoin="round"/>
<path d="M277.4 264.1 280.0 263.3 283.7 262.1 288.0 260.8 292.4 259.4 296.6 258.2 300.0 257.3 302.7 256.8 304.9 256.5 306.9 256.4 308.7 256.3 310.4 256.2 312.0 256.1 313.4 255.9 314.5 255.8 315.5 255.6 316.6 255.4 318.0 255.1 320.0 254.7 322.6 254.1 325.8 253.3 329.2 252.4 332.9 251.5 336.5 250.6 340.0 249.6 343.3 248.7 346.5 247.7 349.7 246.7 353.0 245.7 356.4 244.6 360.0 243.4 364.0 242.1 368.2 240.7 372.6 239.2 377.0 237.7 381.2 236.3 385.0 235.0 388.4 233.9 391.6 232.9 394.5 231.9 397.3 231.0 400.1 230.0 403.0 229.0 405.9 227.9 408.8 226.9 411.7 225.8 414.5 224.6 417.3 223.4 420.0 222.2 422.7 220.8 425.5 219.3 428.2 217.8 430.8 216.2 433.1 214.9 435.0 213.7 436.4 212.8 437.3 212.1 437.9 211.6 438.5 211.1 439.1 210.6 440.0 210.0 441.1 209.3 442.4 208.6 443.7 207.9 445.1 207.2 446.6 206.4 448.0 205.5 449.5 204.5 451.1 203.4 452.7 202.3 454.3 201.1 455.8 199.9 457.2 198.7 458.5 197.5 459.8 196.1 461.1 194.8 462.2 193.5 463.3 192.3 464.2 191.3 464.9 190.6 465.5 190.0 466.0 189.6 466.4 189.2 466.9 188.8 467.4 188.2 468.0 187.5 468.5 186.8 469.1 186.1 469.7 185.3 470.4 184.3 471.1 183.3 472.0 182.1 472.9 180.7 473.9 179.2 474.9 177.8 475.9 176.3 476.8 175.0 477.6 173.8 478.4 172.7 479.1 171.7 479.7 170.7 480.4 169.7 481.0 168.6 481.6 167.6 482.1 166.6 482.6 165.6 483.1 164.6 483.5 163.4 484.0 162.0 484.5 160.3 484.9 158.2 485.4 156.0 485.9 153.8 486.3 151.8 486.8 150.0 487.3 148.6 487.8 147.3 488.3 146.2 488.8 145.2 489.3 144.2 489.8 143.0 490.3 141.8 490.7 140.6 491.1 139.3 491.5 138.0 491.9 136.6 492.3 135.0 492.6 133.2 493.0 131.3 493.3 129.2 493.6 127.1 493.8 125.0 494.0 123.0 494.2 121.0 494.3 118.9 494.4 116.8 494.4 114.8 494.5 113.2 494.5 112.0" fill="none" stroke="#000" stroke-width="1.1" stroke-linejoin="round"/>
<path d="M289.1 259.3 289.7 259.1 290.7 258.9 291.7 258.6 292.9 258.2 294.0 257.9 295.0 257.5 295.8 257.1 296.5 256.6 297.1 256.1 297.8 255.5 298.8 255.0 300.0 254.6 301.6 254.2 303.6 253.9 305.8 253.6 308.0 253.4 310.2 253.1 312.0 252.8 313.4 252.5 314.5 252.2 315.5 252.0 316.6 251.6 318.0 251.3 320.0 250.8 322.6 250.2 325.8 249.6 329.2 248.9 332.9 248.2 336.5 247.4 340.0 246.5 343.3 245.6 346.5 244.7 349.7 243.8 353.0 242.7 356.4 241.6 360.0 240.3 364.0 238.8 368.2 237.0 372.6 235.2 377.0 233.3 381.2 231.5 385.0 229.9 388.4 228.5 391.6 227.2 394.5 226.0 397.3 224.9 400.1 223.7 403.0 222.6 405.9 221.5 408.8 220.4 411.7 219.3 414.5 218.2 417.3 217.1 420.0 215.9 422.7 214.6 425.5 213.2 428.2 211.8 430.8 210.4 433.1 209.2 435.0 208.1 436.4 207.3 437.3 206.6 437.9 206.0 438.5 205.5 439.1 205.0 440.0 204.4 441.1 203.7 442.4 203.0 443.7 202.3 445.1 201.5 446.6 200.7 448.0 199.8 449.5 198.8 451.1 197.6 452.7 196.4 454.3 195.2 455.8 194.0 457.2 192.8 458.5 191.6 459.8 190.3 461.1 189.1 462.2 187.9 463.3 186.8 464.2 185.9 464.9 185.2 465.5 184.7 466.0 184.4 466.4 184.0 466.9 183.6 467.4 183.1 468.0 182.5 468.5 181.9 469.1 181.2 469.7 180.4 470.4 179.6 471.1 178.6 472.0 177.5 472.9 176.2 473.9 174.9 474.9 173.5 475.9 172.1 476.8 170.7 477.6 169.3 478.4 168.0 479.1 166.6 479.7 165.1 480.4 163.7 481.0 162.1 481.6 160.5 482.1 158.8 482.5 157.0 483.0 155.3 483.5 153.4 484.0 151.6 484.6 149.7 485.2 147.6 485.8 145.6 486.4 143.6 487.0 141.7 487.5 140.0 487.9 138.6 488.3 137.4 488.6 136.3 488.9 135.2 489.2 134.2 489.5 133.0 489.8 131.8 490.2 130.6 490.5 129.4 490.9 128.1 491.2 126.6 491.5 125.0 491.8 123.1 492.0 121.0 492.3 118.8 492.5 116.4 492.8 114.2 493.0 112.0 493.2 109.9 493.5 107.7 493.7 105.6 493.9 103.6 494.1 101.7 494.2 100.0 494.3 98.5 494.4 97.0 494.4 95.8 494.5 94.6 494.5 93.7 494.5 93.0" fill="none" stroke="#000" stroke-width="1.1" stroke-linejoin="round"/>
<path d="M289.1 261.6 289.7 261.3 290.7 261.0 291.7 260.6 292.9 260.1 294.0 259.8 295.0 259.5 295.8 259.4 296.5 259.3 297.1 259.3 297.8 259.3 298.8 259.3 300.0 259.2 301.6 259.1 303.6 258.9 305.8 258.6 308.0 258.4 310.2 258.2 312.0 258.0 313.4 257.9 314.5 257.8 315.5 257.7 316.6 257.5 318.0 257.3 320.0 256.9 322.6 256.4 325.8 255.7 329.2 254.9 332.9 254.1 336.5 253.2 340.0 252.3 343.3 251.4 346.5 250.5 349.7 249.5 353.0 248.5 356.4 247.4 360.0 246.1 364.0 244.6 368.2 242.9 372.6 241.0 377.0 239.2 381.2 237.5 385.0 236.0 388.4 234.8 391.6 233.7 394.5 232.8 397.3 231.9 400.1 231.0 403.0 230.0 405.9 228.9 408.8 227.9 411.7 226.8 414.5 225.6 417.3 224.4 420.0 223.2 422.7 221.8 425.5 220.3 428.2 218.8 430.8 217.2 433.1 215.9 435.0 214.7 436.4 213.8 437.3 213.1 437.9 212.6 438.5 212.1 439.1 211.6 440.0 211.0 441.1 210.3 442.4 209.6 443.7 208.9 445.1 208.2 446.6 207.4 448.0 206.5 449.5 205.5 451.1 204.4 452.7 203.3 454.3 202.1 455.8 200.9 457.2 199.7 458.5 198.5 459.8 197.1 461.1 195.8 462.2 194.5 463.3 193.3 464.2 192.3 464.9 191.6 465.5 191.0 466.0 190.6 466.4 190.2 466.9 189.8 467.4 189.2 468.0 188.5 468.5 187.8 469.1 187.1 469.7 186.3 470.4 185.3 471.1 184.3 472.0 183.1 472.9 181.7 473.9 180.2 474.9 178.8 475.9 177.3 476.8 176.0 477.6 174.8 478.4 173.7 479.1 172.7 479.7 171.7 480.4 170.7 481.0 169.6 481.5 168.6 482.0 167.7 482.4 166.7 482.9 165.7 483.4 164.5 484.0 163.0 484.8 161.1 485.8 158.9 486.8 156.5 487.8 154.1 488.8 151.9 489.5 150.0 490.0 148.5 490.4 147.3 490.7 146.2 491.0 145.2 491.2 144.2 491.5 143.0 491.9 141.7 492.2 140.4 492.6 139.0 493.0 137.6 493.3 136.3 493.6 135.0 493.8 133.8 494.0 132.6 494.1 131.4 494.2 130.2 494.3 129.1 494.4 128.0 494.5 126.9 494.5 125.7 494.5 124.6 494.5 123.5 494.5 122.6 494.5 122.0" fill="none" stroke="#000" stroke-width="1.1" stroke-linejoin="round"/>
<path d="M289.1 262.4 289.7 262.2 290.7 261.9 291.7 261.5 292.9 261.1 294.0 260.8 295.0 260.5 295.8 260.3 296.5 260.1 297.1 260.0 297.8 259.9 298.8 259.8 300.0 259.6 301.6 259.4 303.6 259.2 305.8 259.0 308.0 258.8 310.2 258.6 312.0 258.4 313.4 258.3 314.5 258.2 315.5 258.1 316.6 257.9 318.0 257.7 320.0 257.3 322.6 256.8 325.8 256.1 329.2 255.3 332.9 254.5 336.5 253.6 340.0 252.7 343.3 251.8 346.5 250.9 349.7 249.9 353.0 248.9 356.4 247.7 360.0 246.5 364.0 245.1 368.2 243.5 372.6 241.8 377.0 240.2 381.2 238.6 385.0 237.2 388.4 236.0 391.6 235.0 394.5 234.0 397.3 233.1 400.1 232.2 403.0 231.2 405.9 230.1 408.8 229.1 411.7 228.0 414.5 226.8 417.3 225.6 420.0 224.4 422.7 223.0 425.5 221.5 428.2 220.0 430.8 218.4 433.1 217.1 435.0 215.9 436.4 215.0 437.3 214.3 437.9 213.8 438.5 213.3 439.1 212.8 440.0 212.2 441.1 211.5 442.4 210.8 443.7 210.1 445.1 209.4 446.6 208.6 448.0 207.7 449.5 206.7 451.1 205.6 452.7 204.5 454.3 203.3 455.8 202.1 457.2 200.9 458.5 199.7 459.8 198.3 461.1 197.0 462.2 195.7 463.3 194.5 464.2 193.5 464.9 192.8 465.5 192.2 466.0 191.8 466.4 191.4 466.9 191.0 467.4 190.4 468.0 189.7 468.5 189.0 469.1 188.3 469.7 187.5 470.4 186.5 471.1 185.5 472.0 184.3 472.9 182.9 473.9 181.4 474.9 180.0 475.9 178.5 476.8 177.2 477.6 176.0 478.4 174.9 479.1 173.9 479.7 172.9 480.4 171.9 481.0 170.8 481.5 169.8 482.0 168.9 482.4 168.0 482.8 167.0 483.3 165.7 484.0 164.2 484.9 162.2 485.9 159.8 487.0 157.1 488.1 154.5 489.1 152.0 489.9 150.0 490.5 148.4 490.9 147.2 491.2 146.1 491.4 145.1 491.7 144.1 492.0 143.0 492.4 141.7 492.7 140.3 493.1 138.9 493.4 137.5 493.8 136.2 494.0 135.0 494.2 133.9 494.3 132.9 494.4 132.0 494.4 131.2 494.5 130.5 494.5 130.0" fill="none" stroke="#000" stroke-width="1.1" stroke-linejoin="round"/>
<path d="M305.7 314.4 306.6 313.5 307.8 312.2 309.2 310.8 310.7 309.2 312.3 307.7 313.8 306.4 315.3 305.3 316.9 304.4 318.6 303.5 320.2 302.6 321.6 301.7 322.9 300.6 323.9 299.3 324.7 297.9 325.3 296.5 326.0 295.1 326.7 293.7 327.5 292.6 328.5 291.7 329.5 291.1 330.7 290.6 331.8 290.0 333.1 289.4 334.4 288.6 335.9 287.5 337.5 286.3 339.2 285.0 340.9 283.6 342.4 282.3 343.6 281.1 344.4 280.1 344.8 279.3 345.1 278.5 345.3 277.7 345.8 276.7 346.7 275.5 348.1 274.0 349.9 272.2 351.8 270.2 353.8 268.3 355.8 266.4 357.4 264.8 358.8 263.4 360.1 262.2 361.2 261.0 362.3 260.0 363.3 259.0 364.1 258.1 364.7 257.3 365.1 256.7 365.4 256.2 365.7 255.6 366.1 255.0 366.8 254.1 367.8 253.0 369.1 251.7 370.6 250.3 372.0 248.8 373.5 247.4 374.8 246.1 376.0 244.9 377.2 243.7 378.3 242.6 379.4 241.5 380.5 240.4 381.5 239.4 382.5 238.4 383.4 237.6 384.3 236.7 385.2 235.9 386.1 235.0 386.9 234.0 387.7 232.9 388.4 231.7 389.1 230.5 389.8 229.3 390.6 228.1 391.5 227.0 392.6 226.0 393.7 225.1 395.0 224.2 396.3 223.3 397.4 222.3 398.5 221.3 399.4 220.2 400.1 219.1 400.7 218.0 401.4 216.8 402.2 215.5 403.1 214.2 404.2 212.8 405.5 211.2 406.9 209.6 408.3 208.0 409.7 206.5 411.1 205.0 412.4 203.7 413.8 202.4 415.1 201.2 416.4 200.1 417.8 198.9 419.2 197.6 420.6 196.3 422.1 195.1 423.6 193.8 425.1 192.5 426.7 191.1 428.4 189.5 430.2 187.7 432.1 185.7 434.1 183.5 436.2 181.4 438.1 179.3 440.0 177.5 441.8 175.9 443.5 174.4 445.1 173.1 446.8 171.7 448.4 170.5 450.0 169.2 451.6 168.0 453.2 166.9 454.7 165.8 456.3 164.7 457.9 163.4 459.6 162.0 461.4 160.3 463.3 158.4 465.2 156.4 467.1 154.4 468.9 152.4 470.6 150.5 472.2 148.8 473.6 147.1 475.0 145.5 476.4 143.8 477.8 142.1 479.2 140.3 480.7 138.3 482.3 136.1 483.9 133.9 485.4 131.7 486.8 129.6 487.9 127.6 488.8 125.8 489.4 124.3 489.8 122.8 490.2 121.3 490.6 119.7 491.0 118.0 491.4 116.1 491.9 114.1 492.3 112.0 492.7 109.9 493.0 107.9 493.3 106.0 493.5 104.3 493.7 102.6 493.9 101.1 494.0 99.6 494.1 98.2 494.2 97.0 494.3 95.9 494.4 94.9 494.4 93.9 494.4 93.1 494.5 92.5 494.5 92.0" fill="none" stroke="#000" stroke-width="1.1" stroke-linejoin="round"/>
<path d="M305.7 330.5 306.3 329.9 307.1 329.1 308.0 328.1 309.1 327.0 310.3 325.9 311.5 324.7 312.8 323.5 314.2 322.1 315.8 320.7 317.3 319.3 319.0 317.9 320.6 316.7 322.3 315.6 324.1 314.7 325.9 313.8 327.8 312.9 329.5 312.0 331.0 311.0 332.3 309.9 333.4 308.9 334.4 307.8 335.4 306.6 336.5 305.4 337.8 304.1 339.4 302.7 341.2 301.1 343.1 299.4 345.0 297.8 346.7 296.3 348.2 294.9 349.3 293.8 350.1 293.0 350.8 292.3 351.5 291.5 352.3 290.4 353.4 288.9 354.9 286.7 356.6 284.1 358.5 281.1 360.4 278.1 362.3 275.3 364.1 272.8 365.8 270.7 367.4 268.8 369.0 267.1 370.5 265.5 372.0 263.8 373.5 262.1 374.9 260.3 376.3 258.6 377.7 256.9 379.0 255.2 380.3 253.3 381.5 251.4 382.7 249.2 383.9 246.8 385.1 244.4 386.2 242.0 387.3 239.8 388.2 238.0 389.0 236.7 389.6 235.8 390.2 235.1 390.8 234.5 391.4 233.7 392.2 232.7 393.1 231.3 394.2 229.7 395.3 228.0 396.4 226.2 397.5 224.5 398.5 223.0 399.3 221.6 400.0 220.4 400.7 219.2 401.4 218.0 402.2 216.8 403.1 215.5 404.2 214.1 405.5 212.6 406.9 211.0 408.3 209.4 409.7 207.9 411.1 206.5 412.4 205.2 413.8 203.9 415.1 202.7 416.4 201.5 417.8 200.3 419.2 199.0 420.6 197.7 422.1 196.4 423.6 195.1 425.1 193.8 426.7 192.4 428.4 191.0 430.2 189.5 432.1 187.8 434.1 186.2 436.2 184.5 438.1 182.9 440.0 181.5 441.7 180.3 443.4 179.2 444.9 178.1 446.5 177.1 448.2 176.1 450.0 174.9 451.9 173.7 453.9 172.5 455.9 171.2 458.0 169.8 460.2 168.2 462.4 166.3 464.8 164.0 467.3 161.2 469.9 158.2 472.5 155.3 474.8 152.4 476.8 150.0 478.4 148.0 479.8 146.1 480.9 144.5 481.9 143.0 482.8 141.5 483.8 140.0 484.7 138.5 485.6 137.2 486.5 135.8 487.2 134.5 487.9 133.1 488.6 131.5 489.2 129.8 489.7 127.9 490.2 126.0 490.7 124.0 491.1 122.0 491.5 120.0 491.9 118.0 492.3 115.9 492.6 113.8 492.9 111.7 493.2 109.8 493.5 108.0 493.7 106.4 493.9 104.9 494.1 103.5 494.2 102.2 494.3 101.1 494.4 100.0 494.5 99.1 494.5 98.2 494.6 97.5 494.6 96.9 494.6 96.4 494.6 96.0" fill="none" stroke="#000" stroke-width="1.1" stroke-linejoin="round"/>
<path d="M305.7 330.8 306.3 330.2 307.1 329.4 308.0 328.4 309.1 327.4 310.3 326.2 311.5 325.1 312.8 323.8 314.2 322.5 315.8 321.0 317.3 319.6 319.0 318.3 320.6 317.1 322.3 316.0 324.1 315.0 325.9 314.1 327.8 313.3 329.5 312.3 331.0 311.4 332.3 310.3 333.4 309.2 334.4 308.1 335.4 307.0 336.5 305.7 337.8 304.5 339.4 303.0 341.2 301.4 343.1 299.8 345.0 298.2 346.7 296.6 348.2 295.2 349.3 294.2 350.1 293.4 350.8 292.7 351.5 291.9 352.3 290.8 353.4 289.2 354.9 287.1 356.6 284.4 358.5 281.5 360.4 278.5 362.3 275.6 364.1 273.2 365.8 271.1 367.4 269.2 369.0 267.5 370.5 265.8 372.0 264.2 373.5 262.5 374.9 260.7 376.3 259.0 377.7 257.3 379.0 255.5 380.3 253.7 381.5 251.8 382.7 249.6 383.9 247.2 385.1 244.7 386.2 242.3 387.3 240.1 388.2 238.3 389.0 237.0 389.6 236.1 390.2 235.5 390.8 234.8 391.4 234.1 392.2 233.0 393.1 231.7 394.2 230.1 395.3 228.3 396.4 226.6 397.5 224.9 398.5 223.3 399.3 222.0 400.0 220.7 400.7 219.6 401.4 218.4 402.2 217.2 403.1 215.8 404.2 214.4 405.5 212.9 406.9 211.3 408.3 209.8 409.7 208.3 411.1 206.8 412.4 205.5 413.8 204.3 415.1 203.0 416.4 201.8 417.8 200.6 419.2 199.3 420.6 198.1 422.1 196.8 423.6 195.5 425.1 194.1 426.7 192.8 428.4 191.3 430.2 189.8 432.1 188.2 434.1 186.5 436.2 184.9 438.1 183.3 440.0 181.8 441.7 180.6 443.4 179.5 444.9 178.5 446.5 177.5 448.2 176.4 450.0 175.2 451.9 174.0 453.9 172.8 455.9 171.6 458.0 170.2 460.2 168.6 462.4 166.7 464.8 164.3 467.3 161.6 469.9 158.6 472.5 155.6 474.8 152.8 476.8 150.3 478.4 148.3 479.8 146.5 480.9 144.9 481.9 143.3 482.8 141.9 483.8 140.3 484.7 138.9 485.6 137.5 486.5 136.2 487.2 134.8 487.9 133.4 488.6 131.8 489.2 130.1 489.7 128.3 490.2 126.3 490.7 124.3 491.1 122.3 491.5 120.3 491.9 118.3 492.3 116.2 492.6 114.1 492.9 112.1 493.2 110.1 493.5 108.3 493.7 106.7 493.9 105.2 494.1 103.8 494.2 102.6 494.3 101.4 494.4 100.3 494.5 99.4 494.5 98.6 494.6 97.8 494.6 97.2 494.6 96.7 494.6 96.3" fill="none" stroke="#000" stroke-width="1.1" stroke-linejoin="round"/>
<text x="132.8" y="269.9" text-anchor="middle" class="t">Lecanicillium and Acremonium</text>
<text x="205.1" y="332.0" text-anchor="middle" class="t">Contaminant</text>
<text x="349.8" y="332.0" text-anchor="middle" class="t">Epichloe</text>
</svg></body></html>
